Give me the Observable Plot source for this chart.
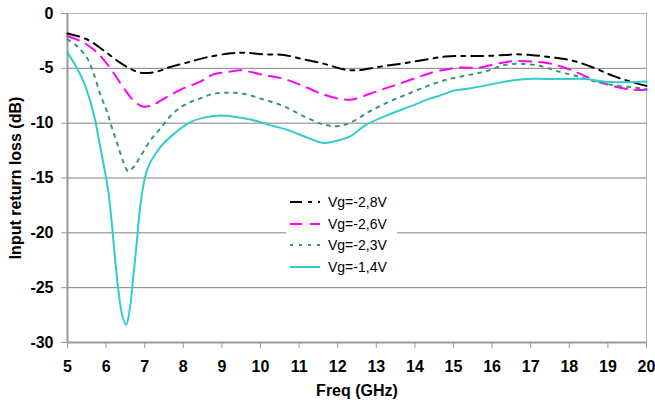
<!DOCTYPE html>
<html>
<head>
<meta charset="utf-8">
<script src="https://cdn.jsdelivr.net/npm/d3@7"></script>
<script src="https://cdn.jsdelivr.net/npm/@observablehq/plot@0.6"></script>
<style>
  html, body { margin: 0; padding: 0; background: #fff; }
  #wrap { position: relative; width: 655px; height: 405px; font-family: "Liberation Sans", Arial, sans-serif; }
  #legend { position: absolute; left: 286px; top: 191px; width: 111px; background: #fff; padding: 0; }
  .row { display: flex; align-items: center; height: 21.7px; }
  .row svg { margin-left: 4px; margin-right: 8px; }
  .row span { font-size: 14px; color: #000; white-space: nowrap; }
</style>
</head>
<body>
<div id="wrap"><div id="legend"></div></div>
<script>
// ---- data ----
const seriesNames = ["Vg=-2,8V", "Vg=-2,6V", "Vg=-2,3V", "Vg=-1,4V"];
const seriesColors = ["#000000", "#ff00ff", "#339966", "#33cccc"];
const seriesDash = ["12,6,4,6", "12,8", "3,6", "none"];

const freq28 = [5, 5.5, 5.93, 6.36, 6.71, 6.97, 7.31, 7.66, 8.09, 8.6, 9.22, 9.56, 10.08, 10.6, 11.11, 11.63, 12.15, 12.5, 13.03, 13.55, 14.22, 14.79, 15.31, 15.83, 16.35, 16.6, 17.05, 17.56, 18.08, 18.6, 19.12, 19.64, 20];
const loss28 = [-1.83, -2.35, -3.35, -4.48, -5.18, -5.43, -5.3, -4.88, -4.48, -4.0, -3.63, -3.57, -3.72, -3.78, -4.18, -4.57, -5.09, -5.18, -4.88, -4.63, -4.24, -3.93, -3.87, -3.87, -3.78, -3.72, -3.8, -4.0, -4.3, -4.9, -5.67, -6.27, -6.6];

const freq26 = [5, 5.33, 5.67, 5.93, 6.19, 6.45, 6.71, 6.97, 7.23, 7.57, 8.0, 8.44, 8.78, 9.22, 9.48, 10.08, 10.6, 11.11, 11.63, 12.15, 12.41, 13.03, 13.55, 14.22, 14.53, 15.13, 15.65, 16.17, 16.6, 17.12, 17.56, 18.08, 18.6, 19.12, 19.64, 20];
const loss26 = [-2.07, -2.5, -3.26, -4.18, -5.4, -6.77, -7.93, -8.5, -8.29, -7.62, -6.83, -6.22, -5.55, -5.3, -5.18, -5.61, -5.95, -6.62, -7.38, -7.84, -7.81, -7.07, -6.46, -5.64, -5.3, -4.94, -4.94, -4.55, -4.33, -4.4, -4.6, -5.2, -6.0, -6.6, -6.95, -6.95];

const freq23 = [5, 5.24, 5.5, 5.67, 5.85, 6.02, 6.15, 6.32, 6.45, 6.58, 6.71, 6.88, 7.14, 7.4, 7.75, 8.09, 8.44, 8.78, 9.22, 9.56, 10.08, 10.6, 11.11, 11.63, 11.98, 12.32, 12.84, 13.37, 13.89, 14.32, 14.79, 15.31, 15.83, 16.35, 16.77, 17.21, 17.73, 18.25, 18.77, 19.29, 19.81, 20];
const loss23 = [-2.35, -2.96, -4.02, -5.4, -7.38, -8.9, -10.4, -12.2, -13.57, -14.4, -14.0, -13.1, -11.6, -10.5, -9.05, -8.23, -7.74, -7.32, -7.23, -7.32, -7.84, -8.45, -9.36, -10.12, -10.27, -9.97, -8.9, -7.99, -7.23, -6.62, -6.07, -5.67, -5.28, -4.67, -4.6, -4.75, -5.3, -5.77, -6.3, -6.6, -6.8, -6.9];

const freq14 = [5, 5.24, 5.41, 5.59, 5.72, 5.85, 5.98, 6.06, 6.15, 6.23, 6.32, 6.41, 6.52, 6.62, 6.71, 6.8, 6.88, 7.01, 7.14, 7.4, 7.75, 8.18, 8.6, 8.96, 9.22, 9.74, 10.25, 10.77, 11.2, 11.63, 11.98, 12.32, 12.75, 13.29, 13.89, 14.41, 14.62, 15.05, 15.48, 16.0, 16.6, 17.05, 17.73, 18.42, 18.94, 19.46, 20];
const loss14 = [-3.57, -4.94, -6.16, -7.99, -9.8, -12.2, -14.6, -16.3, -19.2, -22.3, -25.3, -27.4, -28.4, -26.8, -23.8, -20.7, -17.7, -14.9, -13.6, -12.2, -11.0, -9.9, -9.45, -9.3, -9.36, -9.66, -10.18, -10.7, -11.3, -11.8, -11.6, -11.2, -10.12, -9.27, -8.45, -7.74, -7.52, -7.0, -6.8, -6.44, -6.07, -5.95, -5.98, -5.98, -6.23, -6.26, -6.2];

const xTicks = [5, 6, 7, 8, 9, 10, 11, 12, 13, 14, 15, 16, 17, 18, 19, 20];
const yTicks = [0, -5, -10, -15, -20, -25, -30];
const gridTicks = [-5, -10, -15, -20, -25];

const freqs = [freq28, freq26, freq23, freq14];
const losses = [loss28, loss26, loss23, loss14];

const seriesData = seriesNames.map((name, i) =>
  freqs[i].map((f, j) => ({series: name, f, db: losses[i][j]}))
);

const chart = Plot.plot({
  width: 655,
  height: 405,
  marginLeft: 67,
  marginRight: 9,
  marginTop: 13,
  marginBottom: 63,
  style: {fontFamily: "'Liberation Sans', Arial, sans-serif", fontSize: "16px", fontWeight: "bold", color: "#000", background: "#fff", overflow: "visible"},
  x: {domain: [5, 20]},
  y: {domain: [-30, 0]},
  marks: [
    Plot.ruleY(gridTicks, {stroke: "#808080", strokeWidth: 1}),
    Plot.ruleY([0], {stroke: "#b4b4b4", strokeWidth: 1}),
    Plot.ruleX([20], {stroke: "#b4b4b4", strokeWidth: 1}),
    Plot.axisY({ticks: yTicks, tickSize: 6, tickPadding: 8, stroke: "#999", tickFormat: d => String(d).replace("−", "-"),
      label: "Input return loss (dB)", labelAnchor: "center", labelArrow: "none", labelOffset: 58}),
    Plot.axisX({ticks: xTicks, tickSize: 6, tickPadding: 12, stroke: "#999",
      label: "Freq (GHz)", labelAnchor: "center", labelArrow: "none", labelOffset: 53}),
    Plot.ruleX([5], {stroke: "#999", strokeWidth: 2}),
    Plot.ruleY([-30], {stroke: "#999", strokeWidth: 2}),
    ...seriesData.map((d, i) => Plot.line(d, {
      x: "f", y: "db", stroke: seriesColors[i], strokeWidth: 2,
      strokeDasharray: seriesDash[i], curve: "catmull-rom"
    }))
  ]
});
const wrap = document.getElementById("wrap");
wrap.insertBefore(chart, wrap.firstChild);

// legend overlay
const legend = document.getElementById("legend");
seriesNames.forEach((name, i) => {
  const row = document.createElement("div");
  row.className = "row";
  row.innerHTML = `<svg width="30" height="6"><line x1="0" y1="3" x2="30" y2="3" stroke="${seriesColors[i]}" stroke-width="2" stroke-dasharray="${seriesDash[i]}"/></svg><span>${name}</span>`;
  legend.appendChild(row);
});
</script>
</body>
</html>
